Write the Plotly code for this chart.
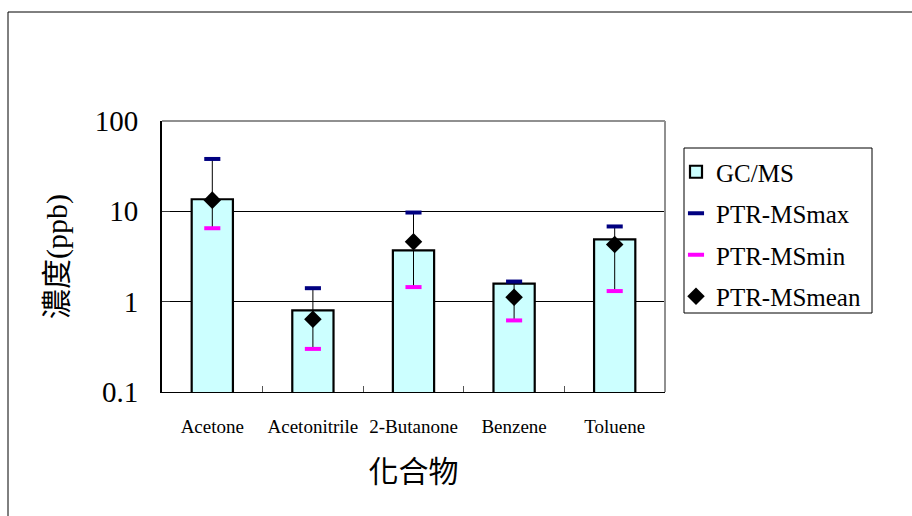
import plotly.graph_objects as go

# Compounds and measured concentrations (ppb)
compounds = ["Acetone", "Acetonitrile", "2-Butanone", "Benzene", "Toluene"]
gcms = [13.6, 0.80, 3.7, 1.58, 4.9]
ptr_max = [38.0, 1.41, 9.7, 1.67, 6.8]
ptr_min = [6.5, 0.30, 1.45, 0.62, 1.31]
ptr_mean = [13.3, 0.64, 4.6, 1.12, 4.3]

serif = "Liberation Serif, Noto Sans CJK TC, serif"

err_plus = [mx - m for mx, m in zip(ptr_max, ptr_mean)]
err_minus = [m - mn for m, mn in zip(ptr_mean, ptr_min)]

# pixel -> paper helpers for the fixed plot area
PX0, PX1, PY0, PY1 = 162, 665, 121, 392


def px(x):
    return (x - PX0) / (PX1 - PX0)


def py(y):
    return (PY1 - y) / (PY1 - PY0)


fig = go.Figure()

fig.add_trace(go.Bar(
    x=compounds, y=gcms, name="GC/MS", width=0.41,
    marker=dict(color="#CCFFFF", line=dict(color="black", width=2.2)),
    legendrank=1, legendgroup="a",
))

# range line from min to max, drawn with the mean diamonds
fig.add_trace(go.Scatter(
    x=compounds, y=ptr_mean, name="PTR-MSmean", mode="markers",
    marker=dict(symbol="diamond", size=13.5, color="black"),
    error_y=dict(type="data", symmetric=False, array=err_plus,
                 arrayminus=err_minus, color="black", thickness=1, width=0),
    legendrank=4, legendgroup="d",
))

fig.add_trace(go.Scatter(
    x=compounds, y=ptr_max, name="PTR-MSmax", mode="markers",
    marker=dict(symbol="line-ew", size=11.5,
                line=dict(color="#000080", width=4)),
    legendrank=2, legendgroup="b",
))

fig.add_trace(go.Scatter(
    x=compounds, y=ptr_min, name="PTR-MSmin", mode="markers",
    marker=dict(symbol="line-ew", size=11.5,
                line=dict(color="#FF00FF", width=4)),
    legendrank=3, legendgroup="c",
))

fig.update_layout(
    width=912, height=516,
    margin=dict(l=162, r=247, t=121, b=124, autoexpand=False),
    paper_bgcolor="white", plot_bgcolor="white",
    font=dict(family=serif, color="black"),
    showlegend=True,
    legend=dict(
        x=px(676), y=py(149), xanchor="left", yanchor="top",
        borderwidth=0, bgcolor="rgba(0,0,0,0)",
        font=dict(family=serif, size=25, color="black"),
        tracegroupgap=6, traceorder="grouped",
    ),
    xaxis=dict(
        type="category", showline=True, linecolor="black", linewidth=1,
        ticks="inside", tickson="boundaries", ticklen=6, tickcolor="#555",
        tickfont=dict(family=serif, size=19, color="black"),
        tickangle=0, ticklabelstandoff=17, automargin=False,
        showgrid=False,
        title=dict(text="化合物", font=dict(family=serif, size=30), standoff=25),
    ),
    yaxis=dict(
        type="log", range=[-1, 2],
        tickvals=[0.1, 1, 10, 100], ticktext=["0.1", "1", "10", "100"],
        showline=True, linecolor="black", linewidth=2,
        ticks="inside", ticklen=8, tickcolor="#333",
        ticklabelstandoff=16, automargin=False,
        showgrid=True, gridcolor="black", gridwidth=1,
        tickfont=dict(family=serif, size=29, color="black"),
        title=dict(text="濃度(ppb)", font=dict(family=serif, size=30), standoff=18),
        zeroline=False,
    ),
    shapes=[
        # plot-area top and right edges
        dict(type="line", xref="paper", yref="paper", x0=0, x1=1, y0=1, y1=1,
             line=dict(color="#909090", width=2), layer="above"),
        dict(type="line", xref="paper", yref="paper", x0=1, x1=1, y0=0, y1=1,
             line=dict(color="#909090", width=2), layer="above"),
        # legend box
        dict(type="rect", xref="paper", yref="paper",
             x0=px(684), x1=px(872), y0=py(313), y1=py(148),
             line=dict(color="black", width=1), fillcolor="rgba(0,0,0,0)"),
        # outer chart frame
        dict(type="rect", xref="paper", yref="paper",
             x0=px(8), x1=px(915), y0=py(520), y1=py(12),
             line=dict(color="black", width=1), fillcolor="rgba(0,0,0,0)"),
    ],
)

fig.write_html("out.html")
